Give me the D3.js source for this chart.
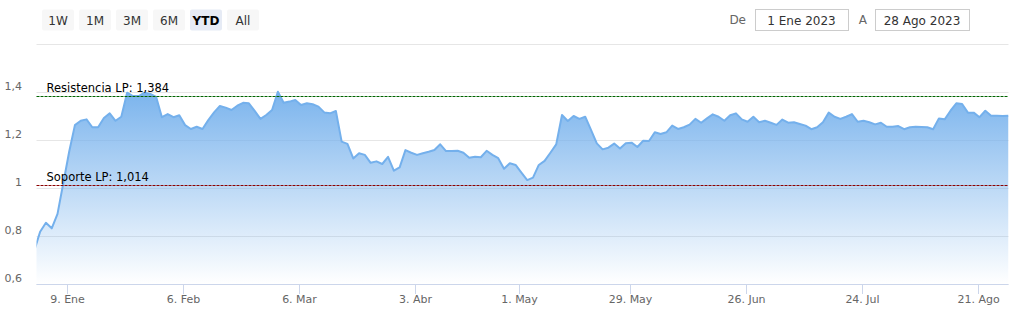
<!DOCTYPE html>
<html>
<head>
<meta charset="utf-8">
<script src="https://cdn.jsdelivr.net/npm/d3@7"></script>
<style>
    body { margin: 0; background: #fff; }
    svg { display: block; font-family: "Lucida Grande", "Lucida Sans Unicode", "DejaVu Sans", Verdana, sans-serif; }
</style>
</head>
<body>
<svg id="chart" width="1011" height="313"></svg>
<script>
// trading calendar: weekdays from the last session of 2022 up to the last point, minus market holidays
const firstDay = "2022-12-30";
const lastDay = "2023-08-28";
const holidays = ["2023-04-07", "2023-04-10", "2023-05-01"];

// one close per session, in calendar order
const prices = [
    0.74,
    0.818, 0.855, 0.832, 0.892, 1.021, 1.150, 1.262, 1.280, 1.286, 1.253,
    1.253, 1.292, 1.311, 1.280, 1.297, 1.397, 1.383, 1.383, 1.397, 1.392,
    1.380, 1.295, 1.308, 1.295, 1.303, 1.262, 1.246, 1.255, 1.246, 1.283,
    1.315, 1.342, 1.335, 1.325, 1.343, 1.355, 1.353, 1.321, 1.288, 1.304,
    1.325, 1.401, 1.355, 1.360, 1.367, 1.346, 1.353, 1.349, 1.339, 1.315,
    1.311, 1.321, 1.193, 1.184, 1.123, 1.145, 1.138, 1.105, 1.111, 1.100,
    1.130, 1.072, 1.086, 1.158, 1.147, 1.138, 1.145, 1.151, 1.158, 1.182,
    1.154, 1.154, 1.155, 1.147, 1.126, 1.130, 1.128, 1.155, 1.138, 1.124,
    1.080, 1.103, 1.096, 1.064, 1.033, 1.043, 1.096, 1.113, 1.147, 1.182,
    1.304, 1.279, 1.300, 1.288, 1.297, 1.242, 1.186, 1.161, 1.168, 1.185,
    1.165, 1.186, 1.189, 1.171, 1.197, 1.196, 1.232, 1.225, 1.232, 1.260,
    1.246, 1.253, 1.264, 1.288, 1.272, 1.290, 1.307, 1.297, 1.280, 1.303,
    1.311, 1.286, 1.276, 1.297, 1.274, 1.280, 1.272, 1.263, 1.285, 1.272,
    1.274, 1.267, 1.260, 1.245, 1.253, 1.274, 1.314, 1.297, 1.288, 1.297,
    1.308, 1.276, 1.280, 1.274, 1.265, 1.272, 1.255, 1.255, 1.258, 1.245,
    1.253, 1.255, 1.254, 1.253, 1.245, 1.290, 1.286, 1.322, 1.353, 1.350,
    1.314, 1.314, 1.295, 1.322, 1.301, 1.301, 1.300, 1.301
];

const yTicks = [0.6, 0.8, 1, 1.2, 1.4, 1.6];
const xTickDates = ["2023-01-09", "2023-02-06", "2023-03-06", "2023-04-03", "2023-05-01",
    "2023-05-29", "2023-06-26", "2023-07-24", "2023-08-21"];
const xTickLabels = ["9. Ene", "6. Feb", "6. Mar", "3. Abr", "1. May", "29. May", "26. Jun", "24. Jul", "21. Ago"];

const levelValues = [1.384, 1.014];
const levelLabels = ["Resistencia LP: 1,384", "Soporte LP: 1,014"];

const rangeButtons = ["1W", "1M", "3M", "6M", "YTD", "All"];
const selectedRange = "YTD";
const rangeFrom = "1 Ene 2023";
const rangeTo = "28 Ago 2023";

document.addEventListener("DOMContentLoaded", function () {
    const plot = { left: 36.5, right: 1008.5, top: 44, bottom: 284 };
    const lineColor = "#74b0ec";
    const levelColors = ["#006400", "#8b0000"];

    const utc = (s, h) => {
        const [y, m, d] = s.split("-").map(Number);
        return new Date(Date.UTC(y, m - 1, d, h || 0));
    };

    // session timestamps (closing time), used for the ordinal x axis
    const days = [];
    for (let t = utc(firstDay, 21); t <= utc(lastDay, 21); t = new Date(t.getTime() + 864e5)) {
        const wd = t.getUTCDay();
        const key = t.toISOString().slice(0, 10);
        if (wd === 0 || wd === 6 || holidays.includes(key)) continue;
        days.push(t);
    }
    const data = days.map((d, i) => ({ date: d, value: prices[i] }));

    // calendar time -> fractional session index (gaps between sessions collapse)
    const bisect = d3.bisector((d) => d).left;
    function ordinal(t) {
        const i = bisect(days, t);
        if (i < days.length && +days[i] === +t) return i;
        const a = days[i - 1], b = days[i];
        return i - 1 + (t - a) / (b - a);
    }

    const x = d3.scaleLinear()
        .domain([ordinal(utc("2023-01-01")), days.length - 1])
        .range([plot.left, plot.right]);
    const y = d3.scaleLinear().domain([0.6, 1.6]).range([plot.bottom, plot.top]);

    const svg = d3.select("#chart");
    const defs = svg.append("defs");

    defs.append("clipPath").attr("id", "plot-clip")
        .append("rect")
        .attr("x", plot.left).attr("y", plot.top)
        .attr("width", plot.right - plot.left).attr("height", plot.bottom - plot.top);

    const grad = defs.append("linearGradient")
        .attr("id", "area-fill")
        .attr("x1", 0).attr("y1", 0).attr("x2", 0).attr("y2", 1);
    grad.append("stop").attr("offset", 0).attr("stop-color", lineColor).attr("stop-opacity", 0.95);
    grad.append("stop").attr("offset", 1).attr("stop-color", lineColor).attr("stop-opacity", 0);

    // range selector buttons
    const btn = svg.append("g").selectAll("g")
        .data(rangeButtons)
        .enter()
        .append("g")
        .attr("transform", (d, i) => `translate(${42 + i * 37},9.5)`);
    btn.append("rect")
        .attr("width", 32).attr("height", 21).attr("rx", 2)
        .attr("fill", (d) => (d === selectedRange ? "#e6ebf5" : "#f7f7f7"));
    btn.append("text")
        .attr("x", 16).attr("y", 15)
        .attr("text-anchor", "middle")
        .attr("font-size", 12)
        .attr("font-weight", (d) => (d === selectedRange ? "bold" : "normal"))
        .attr("fill", (d) => (d === selectedRange ? "#000" : "#333"))
        .text((d) => d);

    // date inputs
    const inputs = [
        { label: "De", text: rangeFrom, lx: 746, bx: 755, bw: 93 },
        { label: "A", text: rangeTo, lx: 867, bx: 875, bw: 94 },
    ];
    const inp = svg.append("g").selectAll("g").data(inputs).enter().append("g");
    inp.append("text")
        .attr("x", (d) => d.lx).attr("y", 24)
        .attr("text-anchor", "end")
        .attr("font-size", 12).attr("fill", "#666")
        .text((d) => d.label);
    inp.append("rect")
        .attr("x", (d) => d.bx + 0.5).attr("y", 9.5)
        .attr("width", (d) => d.bw).attr("height", 21)
        .attr("fill", "#fff").attr("stroke", "#ccc");
    inp.append("text")
        .attr("x", (d) => d.bx + d.bw / 2).attr("y", 24.5)
        .attr("text-anchor", "middle")
        .attr("font-size", 12).attr("fill", "#333")
        .text((d) => d.text);

    // horizontal grid
    svg.append("g").selectAll("line")
        .data(yTicks)
        .enter()
        .append("line")
        .attr("x1", plot.left).attr("x2", plot.right)
        .attr("y1", (d) => Math.round(y(d)) + 0.5).attr("y2", (d) => Math.round(y(d)) + 0.5)
        .attr("stroke", "#e6e6e6");

    // y labels (top one hidden, as in stock charts)
    svg.append("g").selectAll("text")
        .data(yTicks.slice(0, -1))
        .enter()
        .append("text")
        .attr("x", 22).attr("y", (d) => y(d) - 2)
        .attr("text-anchor", "end")
        .attr("font-size", 11).attr("fill", "#666")
        .text((d) => d3.format("~g")(d).replace(".", ","));

    // area + line
    const series = svg.append("g").attr("clip-path", "url(#plot-clip)");
    series.append("path")
        .datum(data)
        .attr("fill", "url(#area-fill)")
        .attr("d", d3.area().x((d, i) => x(i)).y0(plot.bottom).y1((d) => y(d.value)));
    series.append("path")
        .datum(data)
        .attr("fill", "none")
        .attr("stroke", lineColor)
        .attr("stroke-width", 2)
        .attr("stroke-linejoin", "round")
        .attr("d", d3.line().x((d, i) => x(i)).y((d) => y(d.value)));

    // x axis
    const xAxis = svg.append("g");
    xAxis.append("line")
        .attr("x1", plot.left).attr("x2", plot.right)
        .attr("y1", plot.bottom + 0.5).attr("y2", plot.bottom + 0.5)
        .attr("stroke", "#ccd6eb");
    const tick = xAxis.selectAll(".tick")
        .data(xTickDates)
        .enter()
        .append("g")
        .attr("class", "tick")
        .attr("transform", (d) => `translate(${Math.round(x(ordinal(utc(d)))) + 0.5},${plot.bottom})`);
    tick.append("line").attr("y1", 0).attr("y2", 10).attr("stroke", "#ccd6eb");
    tick.append("text")
        .attr("y", 19)
        .attr("text-anchor", "middle")
        .attr("font-size", 11).attr("fill", "#666")
        .text((d, i) => xTickLabels[i]);

    // support / resistance lines
    const level = svg.append("g").selectAll("g")
        .data(levelValues)
        .enter()
        .append("g");
    level.append("line")
        .attr("x1", plot.left).attr("x2", plot.right)
        .attr("y1", (d) => Math.round(y(d)) + 0.5).attr("y2", (d) => Math.round(y(d)) + 0.5)
        .attr("stroke", (d, i) => levelColors[i])
        .attr("stroke-dasharray", "3,1");
    level.append("text")
        .attr("x", plot.left + 10).attr("y", (d) => y(d) - 4)
        .attr("font-size", 11.5).attr("fill", "#000")
        .text((d, i) => levelLabels[i]);
});
</script>
</body>
</html>
